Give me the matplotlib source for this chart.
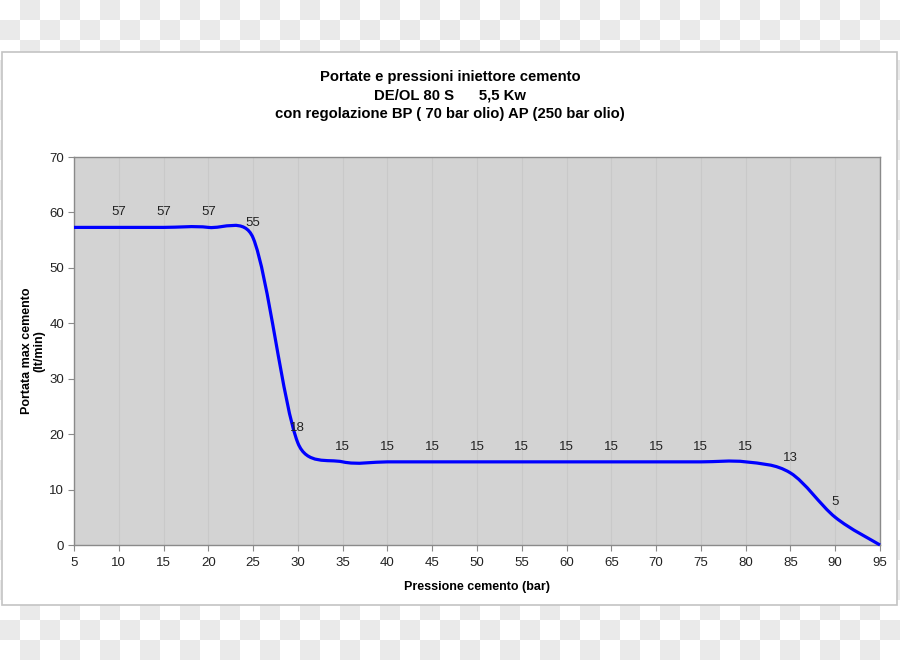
import matplotlib
matplotlib.use("Agg")
import matplotlib.pyplot as plt
import numpy as np
from matplotlib.path import Path
from matplotlib.patches import PathPatch, Rectangle

plt.rcParams['font.family'] = ['Liberation Sans', 'DejaVu Sans']

# data
pressione = [5, 10, 15, 20, 25, 30, 35, 40, 45, 50, 55, 60, 65, 70, 75, 80, 85, 90, 95]
portata = [57.3, 57.3, 57.3, 57.3, 55.4, 18.4, 15, 15, 15, 15, 15, 15, 15, 15, 15, 15, 13, 5, 0]
x_ticks = list(range(5, 96, 5))
y_ticks = list(range(0, 71, 10))

fig = plt.figure(figsize=(9, 6.6), dpi=100)

# checkered background + white panel
bg = fig.add_axes([0, 0, 1, 1], zorder=-10)
nx, ny = 45, 33
checks = (np.add.outer(np.arange(ny), np.arange(nx)) % 2).astype(float)
bg.imshow(checks, cmap='gray_r', vmin=0, vmax=12, extent=[0, 900, 660, 0], interpolation='nearest', aspect='auto')
bg.add_patch(Rectangle((2, 52), 895, 553, facecolor='white', edgecolor='#c4c4c4', linewidth=1.2))
bg.set_xlim(0, 900)
bg.set_ylim(660, 0)
bg.axis('off')

ax = fig.add_axes([74/900, 1-545/660, 806/900, 388/660])
ax.set_facecolor('#d3d3d3')
ax.set_xlim(5, 95)
ax.set_ylim(0, 70)

# smooth line like the spreadsheet: catmull-rom bezier, handles capped at half the segment
sx, sy = 806/90, 388/70   # rough pixels per unit, only for the handle lengths
P = np.column_stack([np.array(pressione, float) * sx, np.array(portata, float) * sy])
n = len(P)

def handle(a, b, d):
    h = (P[b] - P[a]) / 6
    L = np.hypot(*h)
    if L > d / 2:
        h = h * (d / 2) / L
    return h

verts = [tuple(P[0])]
codes = [Path.MOVETO]
for i in range(n-1):
    d = np.hypot(*(P[i+1] - P[i]))
    c1 = P[i] + handle(max(i-1, 0), i+1, d)
    c2 = P[i+1] - handle(i, min(i+2, n-1), d)
    verts += [tuple(c1), tuple(c2), tuple(P[i+1])]
    codes += [Path.CURVE4] * 3
verts = [(vx / sx, vy / sy) for vx, vy in verts]
ax.add_patch(PathPatch(Path(verts, codes), facecolor='none', edgecolor='#0000ff', linewidth=2.3, zorder=3, clip_on=False))

for xi, yi in zip(pressione[1:-1], portata[1:-1]):
    ax.annotate('%.0f' % yi, (xi, yi), xytext=(0, 11), textcoords='offset points',
                ha='center', va='center', fontsize=9.5, color='#222222')

ax.set_xticks(x_ticks)
ax.set_yticks(y_ticks)
ax.grid(axis='x', color='#c9c9c9', linewidth=0.8)
ax.set_axisbelow(True)
for s in ax.spines.values():
    s.set_color('#8a8a8a')
    s.set_linewidth(1.0)
ax.tick_params(direction='out', length=4, color='#8a8a8a', labelsize=9.5, labelcolor='#222222', pad=3)
ax.tick_params(axis='x', pad=5)

ax.set_xlabel('Pressione cemento (bar)', fontsize=9, fontweight='bold', labelpad=8)
ax.set_ylabel('Portata max cemento\n(lt/min)', fontsize=9, fontweight='bold', labelpad=3, linespacing=1.05)

fig.text(0.5, 1-95.5/660, 'Portate e pressioni iniettore cemento\nDE/OL 80 S      5,5 Kw\ncon regolazione BP ( 70 bar olio) AP (250 bar olio)',
         ha='center', va='center', fontsize=10.7, fontweight='bold', linespacing=1.38)

fig.savefig('out.png', dpi=100)
